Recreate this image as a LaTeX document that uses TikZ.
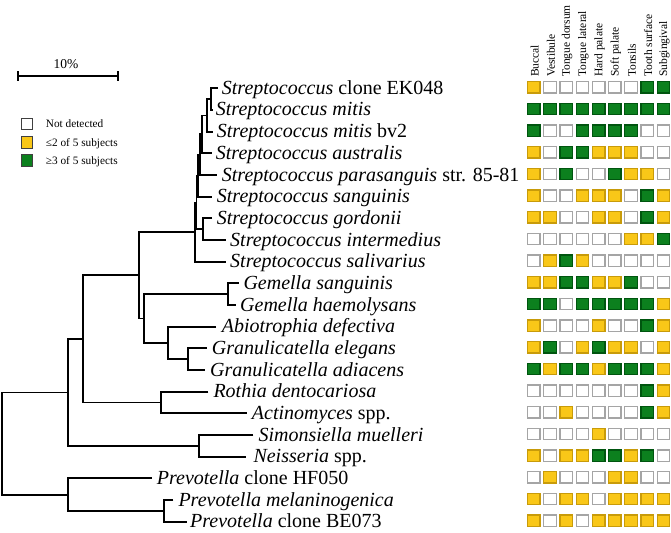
\documentclass[tikz,border=0pt]{standalone}
\usepackage{fontspec}
\setmainfont{Liberation Serif}
\definecolor{cy}{RGB}{249,199,24}
\definecolor{cyb}{RGB}{200,155,10}
\definecolor{cg}{RGB}{12,128,30}
\definecolor{cgb}{RGB}{0,85,15}
\definecolor{cwb}{RGB}{165,165,165}
\begin{document}
\begin{tikzpicture}[x=1pt,y=-1pt,
  tree/.style={line width=1.8pt,line join=miter},
  lab/.style={anchor=base west,inner sep=0pt,font=\fontsize{20}{24}\selectfont},
  hdr/.style={anchor=west,rotate=90,inner sep=0pt,font=\fontsize{11.5}{13}\selectfont},
  leg/.style={anchor=base west,inner sep=0pt,font=\fontsize{11.3}{13}\selectfont},
  cell/.style={minimum width=12.5pt,minimum height=11.5pt,inner sep=0pt,line width=1.3pt},
  boxW/.style={cell,draw=cwb,fill=white},
  boxY/.style={cell,draw=cyb,fill=cy},
  boxG/.style={cell,draw=cgb,fill=cg},
  lbox/.style={minimum width=11pt,minimum height=11.5pt,inner sep=0pt,line width=1pt,draw=black!75}
]
\fill[white] (0,0) rectangle (671,532);
\useasboundingbox (0,0) rectangle (671,532);

% scale bar
\coordinate (sb1) at (17.7,75.7);
\coordinate (sb2) at (118.3,75.7);
\draw[line width=1.8pt] (sb1) -- (sb2);
\draw[line width=1.8pt] ([yshift=-5pt]sb1) -- ([yshift=5pt]sb1);
\draw[line width=1.8pt] ([yshift=-5pt]sb2) -- ([yshift=5pt]sb2);
\node[inner sep=0pt,font=\fontsize{13.5}{15}\selectfont] (sbl) at (66,64.5) {10\%};

% legend
\node[lbox,fill=white] (lg1) at (27.2,124) {};
\node[lbox,fill=cy] (lg2) at (27.2,142.5) {};
\node[lbox,fill=cg] (lg3) at (27.2,160.7) {};
\node[leg] (lt1) at (45.7,128) {Not detected};
\node[leg] (lt2) at (45.7,146.5) {≤2 of 5 subjects};
\node[leg] (lt3) at (45.7,164.7) {≥3 of 5 subjects};

% leaves (line ends)
\coordinate (L1) at (217.5,88.3);
\coordinate (L2) at (212.5,110.0);
\coordinate (L3) at (212.5,131.6);
\coordinate (L4) at (211.5,153.3);
\coordinate (L5) at (217.0,175.0);
\coordinate (L6) at (212.0,196.6);
\coordinate (L7) at (212.0,218.3);
\coordinate (L8) at (225.5,240.0);
\coordinate (L9) at (225.5,261.7);
\coordinate (L10) at (238.5,283.3);
\coordinate (L11) at (235.5,305.0);
\coordinate (L12) at (216.0,326.7);
\coordinate (L13) at (206.5,348.3);
\coordinate (L14) at (205.0,370.0);
\coordinate (L15) at (208.3,391.7);
\coordinate (L16) at (246.7,413.3);
\coordinate (L17) at (253.3,435.0);
\coordinate (L18) at (246.0,456.7);
\coordinate (L19) at (151.7,478.3);
\coordinate (L20) at (173.3,500.0);
\coordinate (L21) at (186.7,521.7);

% internal nodes
\coordinate (N1) at (211.0,99.15);
\coordinate (N2) at (207.0,115.4);
\coordinate (N3) at (202.0,134.35);
\coordinate (N4) at (200.0,154.7);
\coordinate (N5) at (198.0,175.65);
\coordinate (N6) at (203.0,229.15);
\coordinate (N7) at (196.5,202.4);
\coordinate (N8) at (195.0,232.05);
\coordinate (NG) at (227.7,294.15);
\coordinate (NGr) at (187.7,359.15);
\coordinate (NA) at (167.7,342.9);
\coordinate (NB) at (144.3,318.5);
\coordinate (NC) at (139.3,275.3);
\coordinate (NR) at (160.7,402.5);
\coordinate (ND) at (82.7,338.9);
\coordinate (NS) at (199.3,445.85);
\coordinate (NE) at (67.7,392.4);
\coordinate (NP) at (164.0,510.85);
\coordinate (NF) at (67.7,494.6);
\coordinate (R) at (2.3,443.5);

\draw[tree] (L1) -| (N1) |- (L2);
\draw[tree] (N1) -| (N2) |- (L3);
\draw[tree] (N2) -| (N3) |- (L4);
\draw[tree] (N3) -| (N4) |- (L5);
\draw[tree] (N4) -| (N5) |- (L6);
\draw[tree] (L7) -| (N6) |- (L8);
\draw[tree] (N5) -| (N7) |- (N6);
\draw[tree] (N7) -| (N8) |- (L9);
\draw[tree] (L10) -| (NG) |- (L11);
\draw[tree] (L13) -| (NGr) |- (L14);
\draw[tree] (L12) -| (NA) |- (NGr);
\draw[tree] (NG) -| (NB) |- (NA);
\draw[tree] (N8) -| (NC) |- (NB);
\draw[tree] (L15) -| (NR) |- (L16);
\draw[tree] (NC) -| (ND) |- (NR);
\draw[tree] (L17) -| (NS) |- (L18);
\draw[tree] (ND) -| (NE) |- (NS);
\draw[tree] (L20) -| (NP) |- (L21);
\draw[tree] (L19) -| (NF) |- (NP);
\draw[tree] (NE) -| (R) |- (NF);

% labels
\node[lab] (t1) at (221.7,94.3) {\textit{Streptococcus} clone EK048};
\node[lab] (t2) at (215.7,116.0) {\textit{Streptococcus mitis}};
\node[lab] (t3) at (216.7,137.6) {\textit{Streptococcus mitis} bv2};
\node[lab] (t4) at (215.7,159.3) {\textit{Streptococcus australis}};
\node[lab] (t5) at (221.7,181.0) {\textit{Streptococcus parasanguis} str. 85-81};
\node[lab] (t6) at (216.7,202.6) {\textit{Streptococcus sanguinis}};
\node[lab] (t7) at (216.7,224.3) {\textit{Streptococcus gordonii}};
\node[lab] (t8) at (230.0,246.0) {\textit{Streptococcus intermedius}};
\node[lab] (t9) at (230.0,267.7) {\textit{Streptococcus salivarius}};
\node[lab] (t10) at (243.3,289.3) {\textit{Gemella sanguinis}};
\node[lab] (t11) at (240.0,311.0) {\textit{Gemella haemolysans}};
\node[lab] (t12) at (221.7,332.7) {\textit{Abiotrophia defectiva}};
\node[lab] (t13) at (211.7,354.3) {\textit{Granulicatella elegans}};
\node[lab] (t14) at (210.0,376.0) {\textit{Granulicatella adiacens}};
\node[lab] (t15) at (213.3,397.7) {\textit{Rothia dentocariosa}};
\node[lab] (t16) at (251.7,419.3) {\textit{Actinomyces} spp.};
\node[lab] (t17) at (258.3,441.0) {\textit{Simonsiella muelleri}};
\node[lab] (t18) at (253.3,462.7) {\textit{Neisseria} spp.};
\node[lab] (t19) at (156.7,484.3) {\textit{Prevotella} clone HF050};
\node[lab] (t20) at (178.3,506.0) {\textit{Prevotella melaninogenica}};
\node[lab] (t21) at (190.0,527.7) {\textit{Prevotella} clone BE073};

% column headers
\foreach \h [count=\j] in {Buccal,Vestibule,Tongue dorsum,Tongue lateral,Hard palate,Soft palate,Tonsils,Tooth surface,Subgingival}
  \node[hdr] (h\j) at ({518.6+16.2*\j},77) {\h};

% grid
\foreach \rw [count=\i] in {
 {Y,W,W,W,W,W,W,G,G},
 {G,G,G,G,G,G,G,G,G},
 {G,W,W,G,G,G,G,W,W},
 {Y,W,G,G,Y,Y,Y,W,W},
 {Y,W,G,W,W,G,Y,Y,W},
 {Y,W,W,Y,Y,Y,W,G,Y},
 {Y,Y,W,W,Y,Y,W,G,Y},
 {W,W,W,W,W,W,Y,Y,G},
 {W,Y,G,Y,W,W,W,W,W},
 {Y,Y,G,G,Y,Y,G,W,W},
 {G,G,W,G,G,G,G,G,Y},
 {Y,W,W,W,Y,W,W,G,Y},
 {Y,G,W,Y,G,Y,Y,W,Y},
 {G,Y,G,G,Y,G,G,G,Y},
 {W,W,W,W,W,W,W,G,Y},
 {W,W,Y,W,W,W,W,G,Y},
 {W,W,W,W,Y,W,W,W,W},
 {Y,W,Y,Y,G,G,Y,G,W},
 {W,Y,W,W,W,Y,Y,W,W},
 {Y,W,Y,Y,W,Y,Y,Y,Y},
 {Y,W,Y,W,Y,Y,Y,Y,Y}}
 {
  \foreach \c [count=\j] in \rw
    \node[box\c] (b-\i-\j) at ({517.6+16.2*\j},{65.63+21.67*\i}) {};
 }
\end{tikzpicture}
\end{document}
